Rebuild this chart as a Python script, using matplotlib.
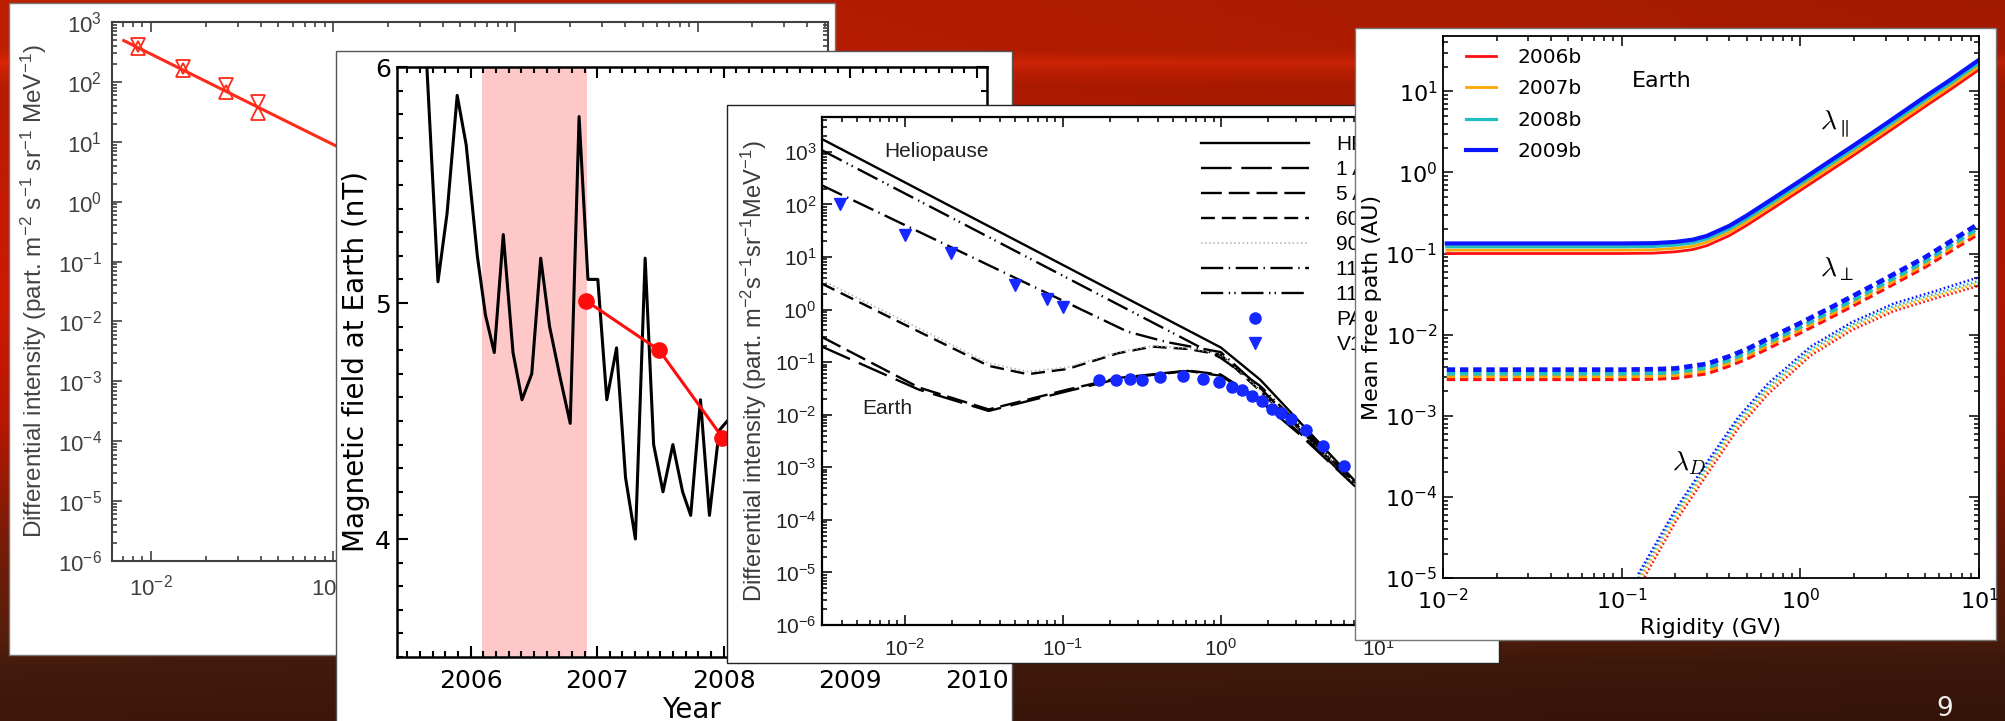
import numpy as np
import matplotlib
matplotlib.use('Agg')
import matplotlib.pyplot as plt
from matplotlib.patches import Rectangle
from matplotlib.ticker import LogLocator, MultipleLocator, NullFormatter

plt.rcParams['mathtext.fontset'] = 'custom'
plt.rcParams['mathtext.rm'] = 'Liberation Sans'
plt.rcParams['mathtext.it'] = 'Liberation Sans:italic'
plt.rcParams['lines.scale_dashes'] = False

W, H = 2006, 721

# ---------------- panel 1: spectrum with power-law fit ----------------
p1_energy = [0.0085, 0.015, 0.026, 0.0388]
p1_upper = [410, 178, 89, 47]
p1_lower = [365, 155, 68, 30]
p1_fit_energy = [0.0071, 0.104]
p1_fit_intensity = [490, 8.5]

# ---------------- panel 2: magnetic field at Earth ----------------
b_year = [2005.594, 2005.742, 2005.814, 2005.894, 2005.965, 2006.053, 2006.117,
          2006.187, 2006.258, 2006.335, 2006.406, 2006.483, 2006.554, 2006.624,
          2006.705, 2006.787, 2006.857, 2006.927, 2007.005, 2007.076, 2007.153,
          2007.224, 2007.302, 2007.379, 2007.446, 2007.520, 2007.598, 2007.675,
          2007.739, 2007.816, 2007.887, 2007.964, 2008.028]
b_field = [6.63, 5.09, 5.38, 5.88, 5.67, 5.20, 4.95,
           4.79, 5.29, 4.79, 4.59, 4.70, 5.19, 4.90,
           4.69, 4.49, 5.79, 5.10, 5.10, 4.59, 4.81,
           4.26, 4.00, 5.19, 4.40, 4.20, 4.40, 4.20,
           4.10, 4.59, 4.10, 4.46, 4.50]
avg_year = [2006.91, 2007.49, 2007.99]
avg_field = [5.01, 4.80, 4.43]
shade_start, shade_end = 2006.09, 2006.92

# ---------------- panel 3: modulated spectra ----------------
e_hp = [0.003, 1.0, 1.78, 7.1]
i_hp = [1750, 0.19, 0.046, 0.00054]
e_119 = [0.003, 1.0, 1.78, 3.16, 7.1]
i_119 = [1070, 0.12, 0.035, 0.0063, 0.0005]
e_110 = [0.003, 0.257, 0.457, 1.0, 1.78, 3.16, 7.1]
i_110 = [230, 0.38, 0.24, 0.155, 0.032, 0.0056, 0.00048]
e_mid = [0.003, 0.0123, 0.034, 0.06, 0.107, 0.224, 0.37, 0.62, 1.0, 1.78, 3.16, 7.1]
i_90 = [3.6, 0.44, 0.095, 0.066, 0.08, 0.155, 0.205, 0.185, 0.145, 0.029, 0.0053, 0.00047]
i_60 = [3.1, 0.38, 0.085, 0.059, 0.074, 0.148, 0.197, 0.178, 0.138, 0.028, 0.0052, 0.00046]
e_earth = [0.003, 0.0123, 0.034, 0.107, 0.224, 0.62, 1.0, 1.78, 3.16, 7.1]
i_5au = [0.30, 0.033, 0.0126, 0.030, 0.050, 0.069, 0.058, 0.019, 0.0045, 0.00044]
i_1au = [0.197, 0.030, 0.0118, 0.028, 0.048, 0.068, 0.055, 0.018, 0.0042, 0.00043]
pam_energy = [0.169, 0.218, 0.267, 0.316, 0.41, 0.58, 0.776, 0.977, 1.17, 1.37,
              1.58, 1.83, 2.12, 2.4, 2.77, 3.45, 4.45, 6.0]
pam_intensity = [0.046, 0.045, 0.047, 0.046, 0.053, 0.054, 0.047, 0.041, 0.034, 0.029,
                 0.023, 0.018, 0.013, 0.0107, 0.0083, 0.0051, 0.0025, 0.00105]
v1_energy = [0.0039, 0.01, 0.0196, 0.05, 0.08, 0.1]
v1_intensity = [100, 26, 11.8, 2.9, 1.58, 1.13]
p3_labels = ['HP', '1 AU', '5 AU', '60 AU', '90 AU', '110 AU', '119 AU', 'PAMELA', 'V1']

# ---------------- panel 4: mean free paths ----------------
years = ['2006b', '2007b', '2008b', '2009b']
year_colors = ['#ff1010', '#ffa500', '#20c0c0', '#0a14ff']
rig_par = [0.0105, 0.1, 0.15, 0.2, 0.25, 0.3, 0.4, 0.5, 0.7, 1, 1.5, 2, 3, 5, 7, 10]
lam_par = [[0.100, 0.100, 0.101, 0.105, 0.112, 0.125, 0.166, 0.222, 0.358, 0.60, 1.08, 1.64, 3.0, 6.5, 10.7, 18.5],
           [0.110, 0.110, 0.111, 0.116, 0.123, 0.138, 0.183, 0.245, 0.394, 0.66, 1.19, 1.80, 3.3, 7.1, 11.8, 20.3],
           [0.121, 0.121, 0.122, 0.127, 0.135, 0.151, 0.200, 0.267, 0.430, 0.72, 1.30, 1.97, 3.6, 7.8, 12.8, 22.2],
           [0.133, 0.133, 0.134, 0.139, 0.148, 0.165, 0.219, 0.293, 0.473, 0.79, 1.43, 2.17, 3.96, 8.6, 14.1, 24.4]]
rig_perp = [0.0105, 0.1, 0.15, 0.2, 0.3, 0.4, 0.5, 0.7, 1, 1.5, 2, 3, 5, 7, 10]
lam_perp = [[0.0028, 0.0028, 0.00283, 0.0029, 0.0033, 0.0041, 0.0050, 0.0072, 0.0105, 0.0165, 0.023, 0.037, 0.068, 0.108, 0.175],
            [0.00305, 0.00305, 0.00308, 0.00316, 0.0036, 0.00447, 0.00545, 0.00785, 0.01145, 0.018, 0.0251, 0.0403, 0.0741, 0.118, 0.191],
            [0.0033, 0.0033, 0.00334, 0.00342, 0.0039, 0.00484, 0.0059, 0.0085, 0.0124, 0.0195, 0.0271, 0.0437, 0.0802, 0.127, 0.207],
            [0.0037, 0.0037, 0.00374, 0.00383, 0.00436, 0.0054, 0.0066, 0.0095, 0.0139, 0.0219, 0.0305, 0.049, 0.090, 0.143, 0.234]]
rig_d = [0.124, 0.2, 0.31, 0.45, 0.66, 1.14, 1.95, 3.34, 5.7, 10]
lam_d = [[0.75e-5, 4.9e-5, 2.1e-4, 7.0e-4, 1.85e-3, 5.5e-3, 0.0114, 0.0195, 0.028, 0.040],
         [0.88e-5, 5.6e-5, 2.4e-4, 7.8e-4, 2.05e-3, 6.0e-3, 0.0123, 0.0210, 0.030, 0.043],
         [1.0e-5, 6.3e-5, 2.65e-4, 8.7e-4, 2.25e-3, 6.5e-3, 0.0132, 0.0225, 0.032, 0.046],
         [1.12e-5, 7.0e-5, 2.95e-4, 9.6e-4, 2.5e-3, 7.1e-3, 0.0143, 0.0242, 0.0345, 0.051]]


def frac(x0, y0, x1, y1):
    # pixel box (top-left origin) -> figure fraction rect
    return [x0 / W, 1 - y1 / H, (x1 - x0) / W, (y1 - y0) / H]


def panel(fig, box, z, edge):
    r = frac(*box)
    fig.add_artist(Rectangle((r[0], r[1]), r[2], r[3], transform=fig.transFigure,
                             facecolor='white', edgecolor=edge, lw=1.0, zorder=z))


def log_ticks(ax, xt, yt):
    ax.set_xticks(xt)
    ax.set_yticks(yt)
    for a in (ax.xaxis, ax.yaxis):
        a.set_minor_locator(LogLocator(base=10, subs=np.arange(2, 10), numticks=100))
        a.set_minor_formatter(NullFormatter())


fig = plt.figure(figsize=(W / 100, H / 100), dpi=100)

# background slide
ys = np.arange(H)
bg_y = [0, 50, 62, 70, 85, 300, 420, 540, 640, 660, 721]
bg_r = [0.74, 0.75, 0.86, 0.80, 0.72, 0.80, 0.72, 0.47, 0.33, 0.27, 0.24]
bg_g = [0.12, 0.12, 0.15, 0.13, 0.11, 0.10, 0.09, 0.11, 0.12, 0.11, 0.09]
bg_b = [0.00, 0.00, 0.02, 0.01, 0.00, 0.00, 0.00, 0.03, 0.05, 0.05, 0.04]
col = np.stack([np.interp(ys, bg_y, c) for c in (bg_r, bg_g, bg_b)], axis=1)
shade = np.linspace(1.0, 0.86, W)
bg = np.clip(col[:, None, :] * shade[None, :, None], 0, 1)
ax_bg = fig.add_axes([0, 0, 1, 1], zorder=-1)
ax_bg.imshow(bg, aspect='auto', interpolation='bilinear')
ax_bg.set_axis_off()

# ---------- panel 1 ----------
panel(fig, (9, 3, 835, 655), 1, '#777777')
ax1 = fig.add_axes(frac(111.7, 22, 828, 561), zorder=2)
ax1.set_xscale('log')
ax1.set_yscale('log')
ax1.plot(p1_fit_energy, p1_fit_intensity, color='#ff2a1a', lw=2.2)
ax1.plot(p1_energy, p1_upper, 'v', mfc='none', mec='#ff2a1a', ms=10, mew=1.3)
ax1.plot(p1_energy, p1_lower, '^', mfc='none', mec='#ff2a1a', ms=10, mew=1.3)
ax1.set_xlim(0.0061, 52)
ax1.set_ylim(1e-6, 1e3)
log_ticks(ax1, [1e-2, 1e-1, 1, 10], [10.0 ** k for k in range(-6, 4)])
ax1.tick_params(which='both', direction='in', top=True, right=True, width=1.2,
                colors='#404040', labelsize=16, labelfontfamily='Liberation Sans')
ax1.tick_params(which='major', length=7, pad=7)
ax1.tick_params(which='minor', length=3.5)
ax1.tick_params(axis='x', pad=10)
for s in ax1.spines.values():
    s.set_linewidth(1.5)
    s.set_color('#404040')
ax1.set_ylabel('Differential intensity (part. m$^{-2}$ s$^{-1}$ sr$^{-1}$ MeV$^{-1}$)',
               family='Liberation Sans', fontsize=17.5, color='#444444', labelpad=6)

# ---------- panel 2 ----------
panel(fig, (336, 51, 1012, 740), 3, '#555555')
ax2 = fig.add_axes(frac(396.7, 67, 987, 657), zorder=4)
ax2.axvspan(shade_start, shade_end, color='#ffc8c8', lw=0)
ax2.plot(b_year, b_field, color='black', lw=2.2)
ax2.plot(avg_year, avg_field, '-o', color='#ff0d0d', lw=2.2, ms=11)
ax2.set_xlim(2005.416, 2010.08)
ax2.set_ylim(3.5, 6.0)
ax2.set_xticks([2006, 2007, 2008, 2009, 2010])
ax2.set_yticks([4, 5, 6])
ax2.xaxis.set_minor_locator(MultipleLocator(0.1))
ax2.yaxis.set_minor_locator(MultipleLocator(0.1))
ax2.tick_params(which='both', direction='in', top=True, right=True, width=1.5,
                labelsize=18)
ax2.tick_params(which='major', length=8, pad=4)
ax2.tick_params(which='minor', length=4.5)
ax2.tick_params(axis='x', pad=9)
for s in ax2.spines.values():
    s.set_linewidth(1.8)
ax2.set_xlabel('Year', fontsize=20, labelpad=2)
ax2.set_ylabel('Magnetic field at Earth (nT)', fontsize=20, labelpad=4)

# ---------- panel 3 ----------
panel(fig, (727, 105, 1499, 663), 5, '#222222')
ax3 = fig.add_axes(frac(822, 116.5, 1474, 625), zorder=6)
ax3.set_xscale('log')
ax3.set_yscale('log')
h_hp, = ax3.plot(e_hp, i_hp, color='black', lw=1.7)
h_1, = ax3.plot(e_earth, i_1au, color='black', lw=1.7, dashes=(22, 7))
h_5, = ax3.plot(e_earth, i_5au, color='black', lw=1.7, dashes=(15, 5))
h_60, = ax3.plot(e_mid, i_60, color='black', lw=1.7, dashes=(10, 5))
h_90, = ax3.plot(e_mid, i_90, color='#b5b5b5', lw=1.3, dashes=(1, 2))
h_110, = ax3.plot(e_110, i_110, color='black', lw=1.7, dashes=(16, 4, 1.0, 4))
h_119, = ax3.plot(e_119, i_119, color='black', lw=1.7, dashes=(16, 4, 1.0, 3, 1.0, 4))
h_pam, = ax3.plot(pam_energy, pam_intensity, 'o', color='#1428ff', ms=8, ls='none')
h_v1, = ax3.plot(v1_energy, v1_intensity, 'v', color='#1428ff', ms=9, ls='none')
ax3.set_xlim(0.003, 40)
ax3.set_ylim(1e-6, 4.7e3)
log_ticks(ax3, [1e-2, 1e-1, 1, 10], [10.0 ** k for k in range(-6, 4)])
ax3.tick_params(which='both', direction='in', top=True, right=True, width=1.3,
                colors='#222222', labelsize=15, labelfontfamily='Liberation Sans')
ax3.tick_params(which='major', length=7.5, pad=4)
ax3.tick_params(which='minor', length=3.5)
ax3.tick_params(axis='x', pad=9)
for s in ax3.spines.values():
    s.set_linewidth(1.6)
ax3.set_ylabel('Differential intensity (part. m$^{-2}$s$^{-1}$sr$^{-1}$MeV$^{-1}$)',
               family='Liberation Sans', fontsize=17, color='#3c3c3c', labelpad=4)
ax3.text(0.016, 1000, 'Heliopause', family='Liberation Sans', fontsize=15,
         ha='center', va='center', color='#222222')
ax3.text(0.0078, 0.013, 'Earth', family='Liberation Sans', fontsize=15,
         ha='center', va='center', color='#222222')
ax3.legend([h_hp, h_1, h_5, h_60, h_90, h_110, h_119, h_pam, h_v1], p3_labels,
           loc='upper left', bbox_to_anchor=(1201 / W, 1 - 135 / H),
           bbox_transform=fig.transFigure, frameon=False, numpoints=1,
           prop={'family': 'Liberation Sans', 'size': 15}, handlelength=5.2,
           handletextpad=1.3, labelspacing=0.29, borderpad=0, borderaxespad=0)

# ---------- panel 4 ----------
panel(fig, (1355, 28, 1996, 640), 7, '#777777')
ax4 = fig.add_axes(frac(1443, 36, 1979, 578), zorder=8)
ax4.set_xscale('log')
ax4.set_yscale('log')
lws = [2.0, 2.0, 2.3, 3.0]
for k in range(4):
    ax4.plot(rig_par, lam_par[k], color=year_colors[k], lw=lws[k], label=years[k])
    ax4.plot(rig_perp, lam_perp[k], color=year_colors[k], lw=lws[k] + 0.4, dashes=(6, 3.5))
    ax4.plot(rig_d, lam_d[k], color=year_colors[k], lw=1.8, dashes=(1.2, 1.8))
ax4.set_xlim(1e-2, 10)
ax4.set_ylim(1e-5, 48)
log_ticks(ax4, [1e-2, 1e-1, 1, 10], [10.0 ** k for k in range(-5, 2)])
ax4.tick_params(which='both', direction='in', top=True, right=True, width=1.1,
                labelsize=16)
ax4.tick_params(which='major', length=7, pad=4)
ax4.tick_params(which='minor', length=3.5)
ax4.tick_params(axis='x', pad=7)
for s in ax4.spines.values():
    s.set_linewidth(1.3)
ax4.set_xlabel('Rigidity (GV)', fontsize=16, labelpad=4)
ax4.set_ylabel('Mean free path (AU)', fontsize=16, labelpad=2)
ax4.text(0.168, 13.3, 'Earth', fontsize=16, ha='center', va='center')
ax4.text(1.56, 3.9, r'$\lambda_{\parallel}$', fontsize=20, ha='center', va='center',
         math_fontfamily='cm')
ax4.text(1.6, 0.064, r'$\lambda_{\perp}$', fontsize=20, ha='center', va='center',
         math_fontfamily='cm')
ax4.text(0.238, 2.6e-4, r'$\lambda_{D}$', fontsize=20, ha='center', va='center',
         math_fontfamily='cm')
ax4.legend(loc='upper left', bbox_to_anchor=(1466 / W, 1 - 48 / H),
           bbox_transform=fig.transFigure, frameon=False, fontsize=14.5,
           handlelength=1.5, handletextpad=1.05, labelspacing=0.62,
           borderpad=0, borderaxespad=0)

fig.text(1945 / W, 1 - 709 / H, '9', color='#eeeeee', fontsize=19,
         ha='center', va='center', zorder=9)

fig.savefig('out.png', dpi=100)
